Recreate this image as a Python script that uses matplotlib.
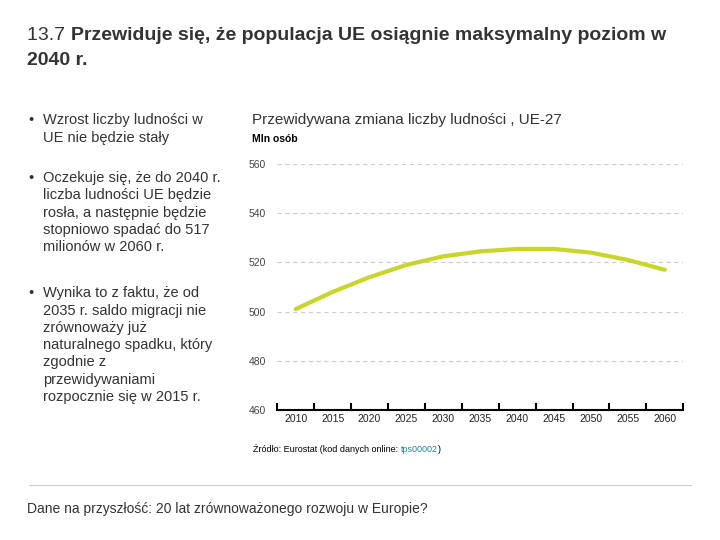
import matplotlib.pyplot as plt
import numpy as np

plt.rcParams['font.family'] = ['Liberation Sans', 'DejaVu Sans']

years = ['2010', '2015', '2020', '2025', '2030', '2035', '2040', '2045', '2050', '2055', '2060']
population = [501, 508, 514, 519, 522.5, 524.5, 525.5, 525.5, 524, 521, 517]
yticks = [460, 480, 500, 520, 540, 560]

fig = plt.figure(figsize=(7.2, 5.4), dpi=100)
renderer = fig.canvas.get_renderer()


def text_after(prev, txt, **kw):
    # place a text right after the previous one on the same line
    bb = prev.get_window_extent(renderer)
    x0, y0 = prev.get_position()
    return fig.text(bb.x1 / fig.bbox.width, y0, txt, **kw)


t1 = fig.text(0.038, 0.935, '13.7 ', fontsize=14, color='#333333', va='center')
text_after(t1, 'Przewiduje się, że populacja UE osiągnie maksymalny poziom w',
           fontsize=14, color='#333333', va='center', fontweight='bold')
fig.text(0.038, 0.888, '2040 r.', fontsize=14, color='#333333', va='center', fontweight='bold')

bullets = [
    (0.79, 'Wzrost liczby ludności w\nUE nie będzie stały'),
    (0.683, 'Oczekuje się, że do 2040 r.\nliczba ludności UE będzie\nrosła, a następnie będzie\nstopniowo spadać do 517\nmilionów w 2060 r.'),
    (0.47, 'Wynika to z faktu, że od\n2035 r. saldo migracji nie\nzrównoważy już\nnaturalnego spadku, który\nzgodnie z\nprzewidywaniami\nrozpocznie się w 2015 r.'),
]
for y, txt in bullets:
    fig.text(0.04, y, '•', fontsize=10.5, color='#333333', va='top')
    fig.text(0.06, y, txt, fontsize=10.5, color='#333333', va='top', linespacing=1.3)

fig.text(0.35, 0.778, 'Przewidywana zmiana liczby ludności , UE-27', fontsize=11, color='#333333', va='center')
fig.text(0.35, 0.742, 'Mln osób', fontsize=7.5, fontweight='bold', color='black', va='center')

ax = fig.add_axes([0.385, 0.241, 0.564, 0.455])
x = np.arange(len(years))
ax.plot(x, population, color='#c8d52a', linewidth=3, solid_capstyle='round', clip_on=False)
ax.set_xlim(-0.5, len(years) - 0.5)
ax.set_ylim(460, 560)
ax.set_yticks(yticks)
ax.tick_params(axis='y', length=0, labelsize=7.5, labelcolor='#444444', pad=8)
ax.set_xticks(np.arange(-0.5, len(years), 1))
ax.set_xticklabels([])
ax.set_xticks(x, minor=True)
ax.set_xticklabels(years, minor=True)
ax.tick_params(axis='x', which='major', length=5, width=1.5, direction='in', color='black')
ax.tick_params(axis='x', which='minor', length=0, labelsize=7.5, labelcolor='#222222', pad=3)
for v in yticks[1:]:
    ax.axhline(v, color='#cccccc', linestyle=(0, (4, 3)), linewidth=0.8, zorder=0)
for s in ['top', 'right', 'left']:
    ax.spines[s].set_visible(False)
ax.spines['bottom'].set_linewidth(1.5)

s1 = fig.text(0.352, 0.168, 'Źródło: Eurostat (kod danych online: ', fontsize=6.5, color='black', va='center')
s2 = text_after(s1, 'tps00002', fontsize=6.5, color='#1a8a8a', va='center')
text_after(s2, ')', fontsize=6.5, color='black', va='center')

fig.add_artist(plt.Line2D([0.04, 0.96], [0.102, 0.102], color='#cccccc', linewidth=0.8))
fig.text(0.038, 0.057, 'Dane na przyszłość: 20 lat zrównoważonego rozwoju w Europie?', fontsize=10, color='#333333', va='center')

fig.savefig('out.png', dpi=100)
